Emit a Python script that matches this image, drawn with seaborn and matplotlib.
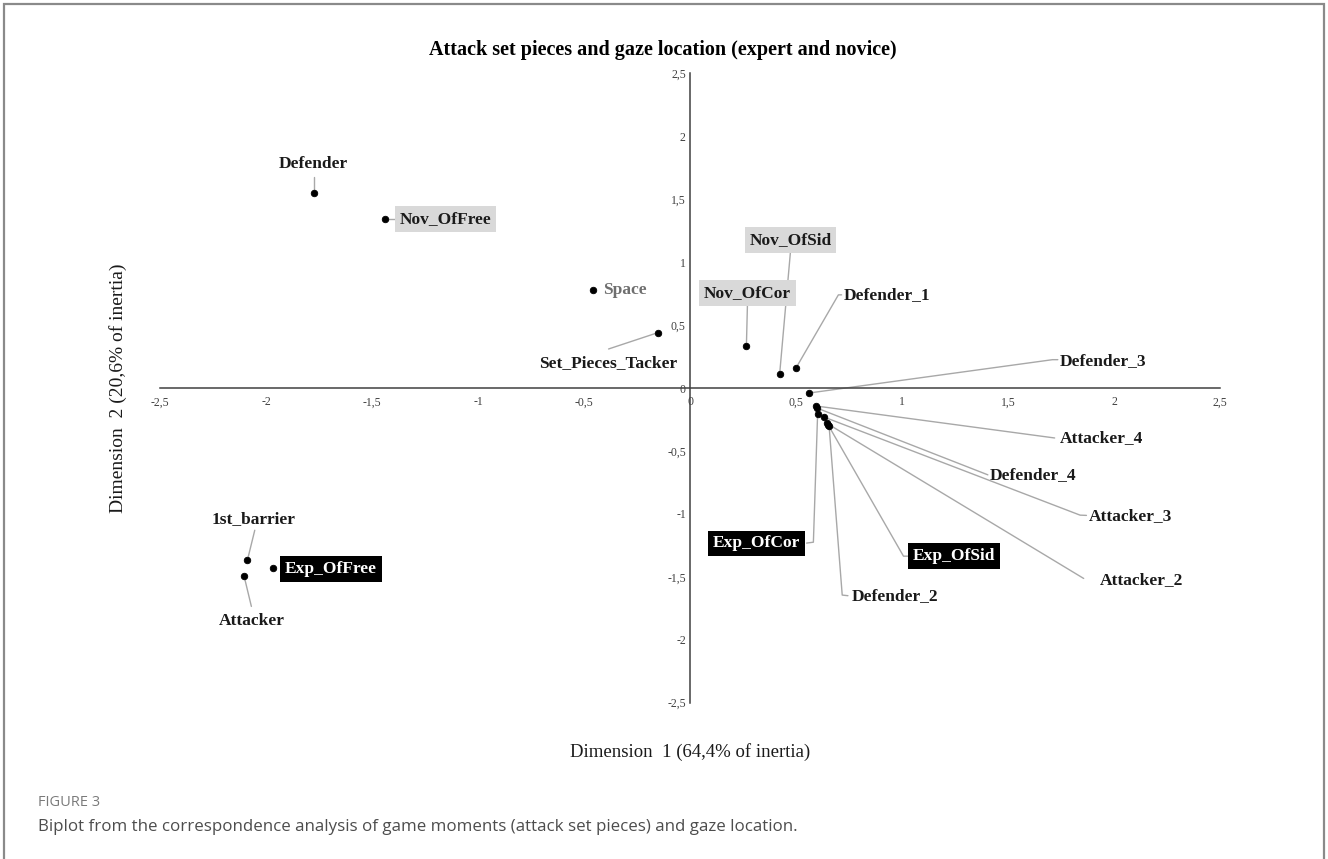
import matplotlib
matplotlib.use("Agg")
import matplotlib.pyplot as plt
import seaborn as sns
import pandas as pd
from matplotlib.patches import Rectangle

# ---------------- data ----------------
labels = ["Defender", "Nov_OfFree", "Space", "Set_Pieces_Tacker", "Nov_OfCor",
          "Nov_OfSid", "Defender_1", "Defender_3", "Attacker_4", "Defender_4",
          "Exp_OfCor", "Attacker_3", "Attacker_2", "Exp_OfSid", "Defender_2",
          "1st_barrier", "Attacker", "Exp_OfFree"]
dim1 = [-1.775, -1.44, -0.456, -0.151, 0.266, 0.423, 0.50, 0.561, 0.595, 0.60,
        0.602, 0.631, 0.645, 0.651, 0.656, -2.088, -2.103, -1.968]
dim2 = [1.55, 1.34, 0.78, 0.44, 0.333, 0.114, 0.159, -0.04, -0.143, -0.16,
        -0.204, -0.23, -0.28, -0.291, -0.30, -1.37, -1.497, -1.431]
kind = ["loc", "nov", "space", "loc", "nov", "nov", "loc", "loc", "loc", "loc",
        "exp", "loc", "loc", "exp", "loc", "loc", "loc", "exp"]

tick_vals = [-2.5, -2, -1.5, -1, -0.5, 0, 0.5, 1, 1.5, 2, 2.5]
tick_text = ["-2,5", "-2", "-1,5", "-1", "-0,5", "0", "0,5", "1", "1,5", "2", "2,5"]

title = "Attack set pieces and gaze location (expert and novice)"
xlab = "Dimension  1 (64,4% of inertia)"
ylab = "Dimension  2 (20,6% of inertia)"

# ---------------- layout of labels (text anchor, alignment, leader end) ----------------
label_layout = {
    "Defender":          ((-1.775, 1.777), "center", [(-1.775, 1.68)]),
    "Nov_OfFree":        ((-1.37, 1.34), "left", [(-1.39, 1.34)]),
    "Space":             ((-0.41, 0.78), "left", []),
    "Set_Pieces_Tacker": ((-0.385, 0.196), "center", [(-0.384, 0.31)]),
    "Nov_OfCor":         ((0.271, 0.757), "center", [(0.271, 0.665)]),
    "Nov_OfSid":         ((0.474, 1.177), "center", [(0.474, 1.085)]),
    "Defender_1":        ((0.725, 0.735), "left", [(0.70, 0.74), (0.715, 0.74)]),
    "Defender_3":        ((1.745, 0.214), "left", [(1.71, 0.225), (1.735, 0.225)]),
    "Attacker_4":        ((1.745, -0.397), "left", [(1.72, -0.397)]),
    "Defender_4":        ((1.416, -0.693), "left", [(1.39, -0.68), (1.405, -0.69)]),
    "Attacker_3":        ((1.879, -1.016), "left", [(1.84, -1.01), (1.87, -1.012)]),
    "Attacker_2":        ((1.933, -1.526), "left", [(1.857, -1.513)]),
    "Exp_OfSid":         ((1.246, -1.336), "center", [(1.007, -1.336), (1.03, -1.336)]),
    "Defender_2":        ((0.763, -1.653), "left", [(0.718, -1.645), (0.745, -1.65)]),
    "Exp_OfCor":         ((0.313, -1.235), "center", [(0.582, -1.225), (0.55, -1.232)]),
    "1st_barrier":       ((-2.059, -1.04), "center", [(-2.053, -1.13)]),
    "Attacker":          ((-2.069, -1.847), "center", [(-2.069, -1.735)]),
    "Exp_OfFree":        ((-1.695, -1.437), "center", []),
}

df = pd.DataFrame({"label": labels, "dim1": dim1, "dim2": dim2, "kind": kind})

sns.set_theme(style="white")
plt.rcParams["font.family"] = ["Liberation Serif", "DejaVu Serif"]

W, H = 1328, 859
fig = plt.figure(figsize=(W / 100, H / 100), dpi=100)
fig.patch.set_facecolor("white")

# outer frame (left, top, right)
fig.add_artist(Rectangle((4 / W, -0.05), (1320) / W, 1.05 - 4 / H, transform=fig.transFigure,
                         fill=False, edgecolor="#8a8a8a", linewidth=1.6))

ax = fig.add_axes([160 / W, 1 - 702.7 / H, 1060 / W, 629.4 / H])
ax.set_facecolor("none")

# leader lines
for name, x0, y0 in zip(labels, dim1, dim2):
    (tx, ty), ha, pts = label_layout[name]
    if pts:
        xs = [x0] + [p[0] for p in pts]
        ys = [y0] + [p[1] for p in pts]
        ax.plot(xs, ys, color="#a8a8a8", lw=1.0, zorder=2)

sns.scatterplot(data=df, x="dim1", y="dim2", color="black", s=22, edgecolor="black",
                linewidth=0.6, legend=False, ax=ax, zorder=4)

for name, k in zip(labels, kind):
    (tx, ty), ha, pts = label_layout[name]
    kw = dict(fontsize=12.5, fontweight="bold", ha=ha, va="center", zorder=5)
    if k == "nov":
        kw.update(color="#1a1a1a", bbox=dict(boxstyle="square,pad=0.28", fc="#d9d9d9", ec="none"))
    elif k == "exp":
        kw.update(color="white", bbox=dict(boxstyle="square,pad=0.28", fc="black", ec="none"))
    elif k == "space":
        kw.update(color="#6f6f6f")
    else:
        kw.update(color="#1a1a1a")
    ax.text(tx, ty, name, **kw)

ax.set_xlim(-2.5, 2.5)
ax.set_ylim(-2.5, 2.5)
ax.spines["left"].set_position(("data", 0))
ax.spines["bottom"].set_position(("data", 0))
ax.spines["top"].set_visible(False)
ax.spines["right"].set_visible(False)
for s in ("left", "bottom"):
    ax.spines[s].set_color("#404040")
    ax.spines[s].set_linewidth(1.1)
ax.set_xticks(tick_vals)
ax.set_xticklabels(tick_text)
ax.set_yticks(tick_vals)
ax.set_yticklabels(tick_text)
ax.tick_params(axis="x", length=0, pad=6, labelsize=8.5, colors="#404040")
ax.tick_params(axis="y", length=0, pad=3, labelsize=8.5, colors="#404040")
ax.set_xlabel("")
ax.set_ylabel("")
ax.grid(False)

fig.text(663 / W, 1 - 50 / H, title, ha="center", va="center", fontsize=14.5,
         fontweight="bold", color="black")
fig.text(690 / W, 1 - 752 / H, xlab, ha="center", va="center", fontsize=13.5, color="#1a1a1a")
fig.text(118 / W, 1 - 388 / H, ylab, ha="center", va="center", fontsize=14,
         rotation=90, color="#1a1a1a")

fig.text(38 / W, 1 - 803 / H, "FIGURE 3", ha="left", va="center", fontsize=10.5,
         color="#7a7a7a", family=["Open Sans", "DejaVu Sans"])
fig.text(38 / W, 1 - 827 / H,
         "Biplot from the correspondence analysis of game moments (attack set pieces) and gaze location.",
         ha="left", va="center", fontsize=12.2, color="#4d4d4d",
         family=["Open Sans", "DejaVu Sans"])

fig.savefig("out.png", dpi=100, facecolor="white")
